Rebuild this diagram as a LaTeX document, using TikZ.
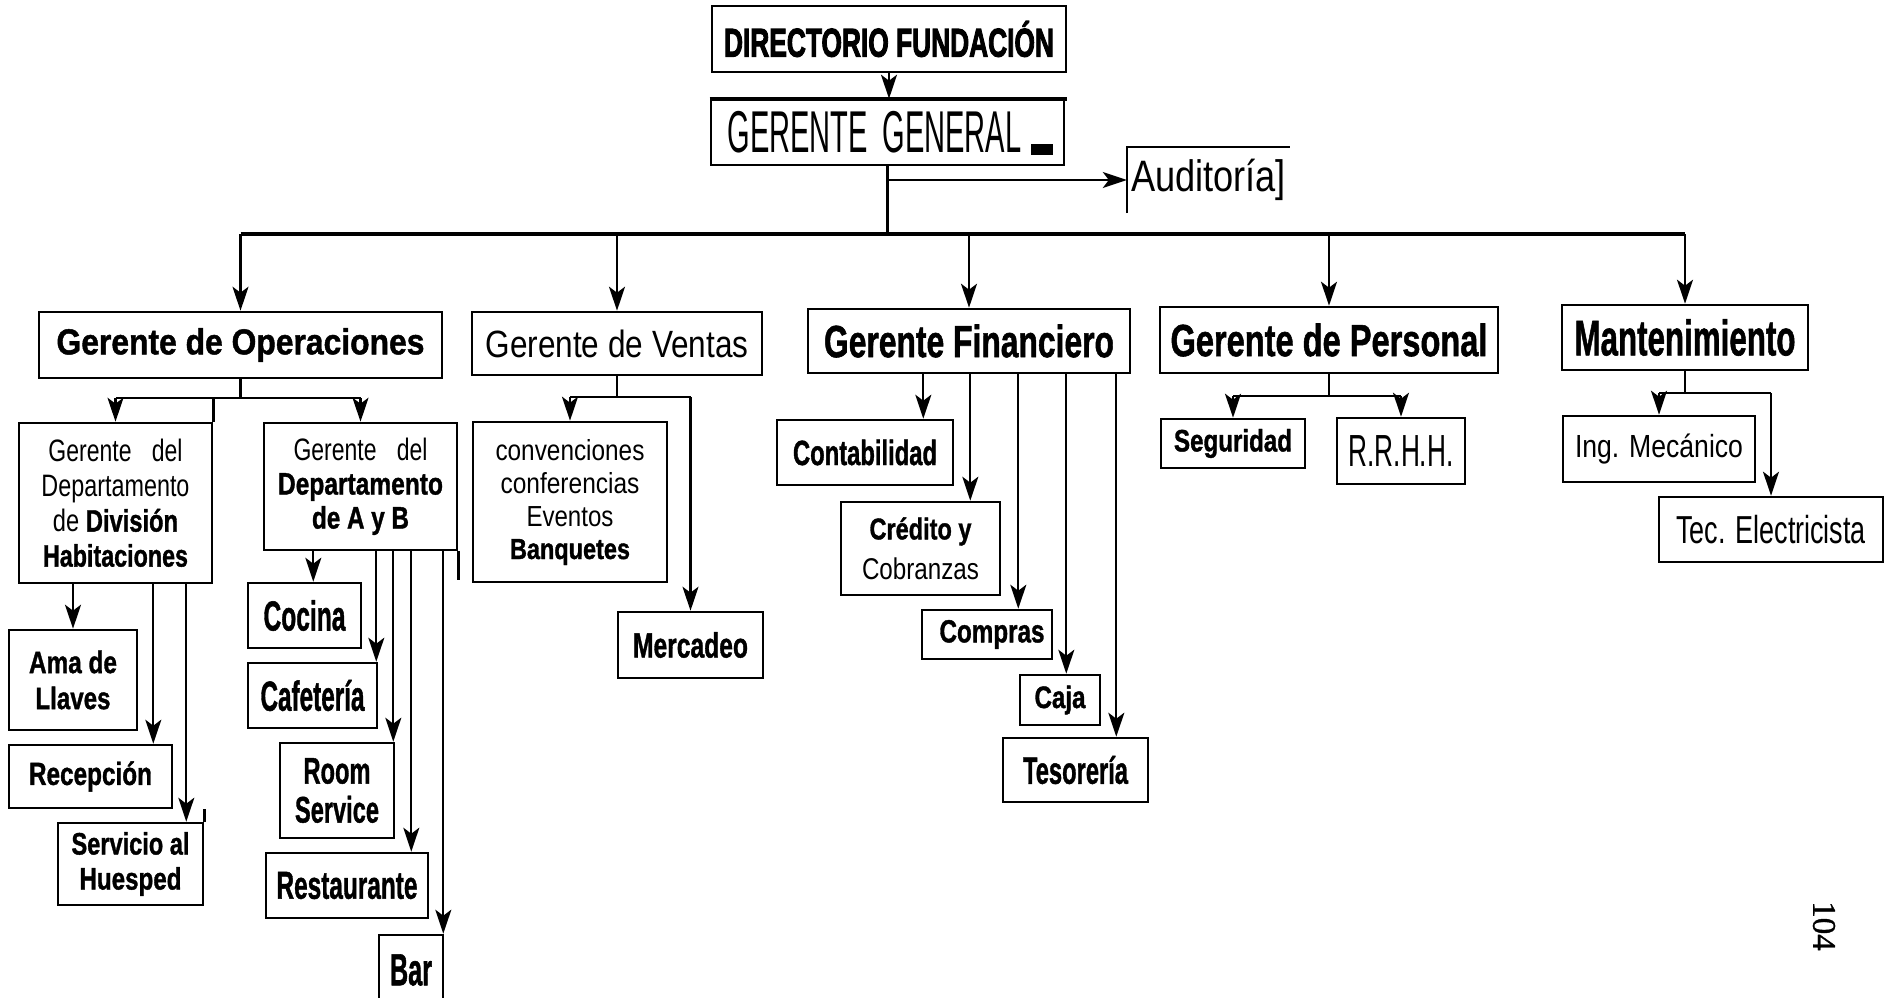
\documentclass[tikz,border=0pt]{standalone}
\usepackage{fontspec}
\usepackage{graphicx}
\usetikzlibrary{arrows.meta,calc}
\setsansfont{Liberation Sans}[BoldFeatures={FakeBold=1.3}]
\newfontfamily\heavyf{Liberation Sans}[BoldFeatures={FakeBold=3}]
\newfontfamily\numf{Liberation Serif}[FakeBold=1]
\newcommand\tw[2]{\resizebox{#1pt}{\height}{#2}}
\newcommand\fsz[2]{\fontsize{#1}{#2}\selectfont}
\tikzset{
  bx/.style={draw, line width=2.6pt, inner sep=0pt, align=center},
  arr/.style={line width=2.2pt, -{Stealth[length=24pt,width=16pt,inset=6pt]}},
  ln/.style={line width=2.2pt},
  busln/.style={line width=4.5pt},
  edg/.style={line width=2.6pt},
}
\begin{document}
\begin{tikzpicture}[x=1pt,y=-1pt]
\useasboundingbox (0,0) rectangle (1895,998);
\fill[white] (0,0) rectangle (1895,998);

% ---------- top ----------
\node[bx, minimum width=354, minimum height=66, font=\heavyf\bfseries\fsz{40}{42}] (dir) at (889,39) {\tw{330}{DIRECTORIO FUNDACIÓN}};
\node[bx, minimum width=353, minimum height=65, font=\sffamily\fsz{59}{62}] (gg) at (887.5,132.5) {\tw{294}{GERENTE\hspace{0.5em}GENERAL}\hspace{26pt}};
\draw[line width=4pt] (gg.north west) -- ([xshift=2pt]gg.north east);
\fill (1031,144) rectangle (1053,155);
\node[inner sep=0pt, minimum width=163, minimum height=66, font=\sffamily\fsz{44}{46}] (aud) at (1208.5,180) {\tw{155}{Auditoría]}};
\draw[edg] (aud.south west) -- (aud.north west) -- (aud.north east);

% ---------- second level ----------
\node[bx, minimum width=403, minimum height=66, font=\sffamily\bfseries\fsz{36}{38}] (go) at (240.5,345) {\tw{368}{Gerente de Operaciones}};
\node[bx, minimum width=290, minimum height=63, font=\sffamily\fsz{38}{40}] (gv) at (617,343.5) {\tw{263}{Gerente de Ventas}};
\node[bx, minimum width=322, minimum height=64, font=\sffamily\bfseries\fsz{45}{48}] (gf) at (969,341) {\tw{290}{Gerente Financiero}};
\node[bx, minimum width=338, minimum height=66, font=\sffamily\bfseries\fsz{45}{48}] (gp) at (1329,340) {\tw{317}{Gerente de Personal}};
\node[bx, minimum width=246, minimum height=65, font=\sffamily\bfseries\fsz{50}{52}] (mant) at (1685,337.5) {\tw{221}{Mantenimiento}};

% ---------- operaciones ----------
\node[bx, minimum width=193, minimum height=160, font=\sffamily\fsz{31}{35}] (gddh) at (115.5,503)
  {\tw{134}{Gerente\hspace{0.88em}del}\\\tw{148}{Departamento}\\\tw{125}{de \textbf{División}}\\\tw{145}{\textbf{Habitaciones}}};
\node[bx, minimum width=193, minimum height=127, font=\sffamily\fsz{31}{34}] (gdab) at (360.5,486.5)
  {\tw{134}{Gerente\hspace{0.88em}del}\\\tw{165}{\textbf{Departamento}}\\\tw{97}{\textbf{de A y B}}};
\node[bx, minimum width=128, minimum height=100, font=\sffamily\bfseries\fsz{31}{36}] (ama) at (73,680) {\tw{88}{Ama de}\\\tw{75}{Llaves}};
\node[bx, minimum width=163, minimum height=63, font=\sffamily\bfseries\fsz{32}{34}] (rec) at (90.5,776.5) {\tw{123}{Recepción}};
\node[bx, minimum width=145, minimum height=82, font=\sffamily\bfseries\fsz{31}{35}] (serv) at (130.5,864) {\tw{118}{Servicio al}\\\tw{102}{Huesped}};
\node[bx, minimum width=113, minimum height=65, font=\sffamily\bfseries\fsz{42}{44}] (cocina) at (304.5,615.5) {\tw{82}{Cocina}};
\node[bx, minimum width=129, minimum height=65, font=\sffamily\bfseries\fsz{42}{44}] (cafe) at (312.5,695.5) {\tw{104}{Cafetería}};
\node[bx, minimum width=114, minimum height=95, font=\sffamily\bfseries\fsz{37}{39}] (room) at (337,790.5) {\tw{67}{Room}\\\tw{84}{Service}};
\node[bx, minimum width=162, minimum height=65, font=\sffamily\bfseries\fsz{39}{41}] (rest) at (347,885.5) {\tw{141}{Restaurante}};
\node[bx, minimum width=64, minimum height=70, font=\sffamily\bfseries\fsz{45}{47}] (bar) at (411,970) {\tw{42}{Bar}};

% ---------- ventas ----------
\node[bx, minimum width=194, minimum height=160, font=\sffamily\fsz{29}{33}] (conv) at (570,502)
  {\tw{149}{convenciones}\\\tw{139}{conferencias}\\\tw{87}{Eventos}\\\tw{120}{\textbf{Banquetes}}};
\node[bx, minimum width=145, minimum height=66, font=\sffamily\bfseries\fsz{35}{37}] (merc) at (690.5,645) {\tw{115}{Mercadeo}};

% ---------- financiero ----------
\node[bx, minimum width=176, minimum height=65, font=\sffamily\bfseries\fsz{35}{37}] (cont) at (865,452.5) {\tw{144}{Contabilidad}};
\node[bx, minimum width=159, minimum height=93, font=\sffamily\fsz{30}{40}] (cred) at (920.5,548.5) {\tw{102}{\textbf{Crédito y}}\\\tw{117}{Cobranzas}};
\node[bx, minimum width=130, minimum height=49, font=\sffamily\bfseries\fsz{32}{34}] (comp) at (987,634.5) {\hspace{10pt}\tw{105}{Compras}};
\node[bx, minimum width=80, minimum height=50, font=\sffamily\bfseries\fsz{31}{33}] (caja) at (1060,700) {\tw{51}{Caja}};
\node[bx, minimum width=145, minimum height=64, font=\sffamily\bfseries\fsz{38}{40}] (teso) at (1075.5,770) {\tw{105}{Tesorería}};

% ---------- personal ----------
\node[bx, minimum width=144, minimum height=49, font=\sffamily\bfseries\fsz{31}{33}] (seg) at (1233,443.5) {\tw{118}{Seguridad}};
\node[bx, minimum width=128, minimum height=66, font=\sffamily\fsz{45}{47}] (rrhh) at (1401,451) {\tw{105}{R.R.H.H.}};

% ---------- mantenimiento ----------
\node[bx, minimum width=192, minimum height=66, font=\sffamily\fsz{32}{34}] (ing) at (1659,449) {\tw{168}{Ing. Mecánico}};
\node[bx, minimum width=224, minimum height=65, font=\sffamily\fsz{39}{41}] (tec) at (1771,529.5) {\tw{190}{Tec. Electricista}};

% page number
\node[inner sep=0pt, rotate=-90, font=\numf\fsz{33}{33}] (pg) at (1824,926) {104};

% ---------- connectors: top ----------
\draw[arr] (dir.south) -- (dir.south |- gg.north);
\coordinate (busy) at (0,234);
\draw[ln] (gg.south) -- (gg.south |- busy);
\draw[arr] (gg.south |- aud.west) -- (aud.west);
\draw[busln] (go.north |- busy) -- (mant.north |- busy);
\foreach \n in {go,gv,gf,gp,mant} \draw[arr] (\n.north |- busy) -- (\n.north);

% operaciones
\coordinate (goy) at (0,398);
\draw[ln] (go.south) -- (go.south |- goy);
\draw[ln] (gddh.north |- goy) -- (gdab.north |- goy);
\draw[arr] (gddh.north |- goy) -- (gddh.north);
\draw[arr] (gdab.north |- goy) -- (gdab.north);
\draw[edg] (gddh.north east) -- (gddh.north east |- goy);

\draw[arr] (gddh.south -| ama.north) -- (ama.north);
\coordinate (recin) at ([xshift=-20pt]rec.north east);
\draw[arr] (recin |- gddh.south) -- (recin);
\coordinate (servin) at ([xshift=-18pt]serv.north east);
\draw[arr] (servin |- gddh.south) -- (servin);
\draw[edg] (serv.north east) -- (serv.north east |- rec.south);

\coordinate (k1) at ([xshift=-49pt]cocina.north east);
\coordinate (k2) at ([xshift=-2pt]cafe.north east);
\coordinate (k3) at ([xshift=-2pt]room.north east);
\coordinate (k4) at ([xshift=-18pt]rest.north east);
\coordinate (k5) at ([xshift=-1pt]bar.north east);
\foreach \k in {k1,k2,k3,k4,k5} \draw[arr] (\k |- gdab.south) -- (\k);
\draw[edg] (gdab.south east) -- ++(0,29);

% ventas
\coordinate (gvy) at (0,397);
\draw[ln] (gv.south) -- (gv.south |- gvy);
\draw[ln] (conv.north |- gvy) -- (merc.north |- gvy);
\draw[arr] (conv.north |- gvy) -- (conv.north);
\draw[arr] (merc.north |- gvy) -- (merc.north);

% financiero
\coordinate (f1) at ([xshift=-31pt]cont.north east);
\coordinate (f2) at ([xshift=-31pt]cred.north east);
\coordinate (f3) at ([xshift=-35pt]comp.north east);
\coordinate (f4) at ([xshift=-35pt]caja.north east);
\coordinate (f5) at ([xshift=-33pt]teso.north east);
\foreach \f in {f1,f2,f3,f4,f5} \draw[arr] (\f |- gf.south) -- (\f);

% personal
\coordinate (gpy) at (0,396);
\draw[ln] (gp.south) -- (gp.south |- gpy);
\draw[ln] (seg.north |- gpy) -- (rrhh.north |- gpy);
\draw[arr] (seg.north |- gpy) -- (seg.north);
\draw[arr] (rrhh.north |- gpy) -- (rrhh.north);

% mantenimiento
\coordinate (mty) at (0,393);
\draw[ln] (mant.south) -- (mant.south |- mty);
\draw[ln] (ing.north |- mty) -- (tec.north |- mty);
\draw[arr] (ing.north |- mty) -- (ing.north);
\draw[arr] (tec.north |- mty) -- (tec.north);
\end{tikzpicture}
\end{document}
